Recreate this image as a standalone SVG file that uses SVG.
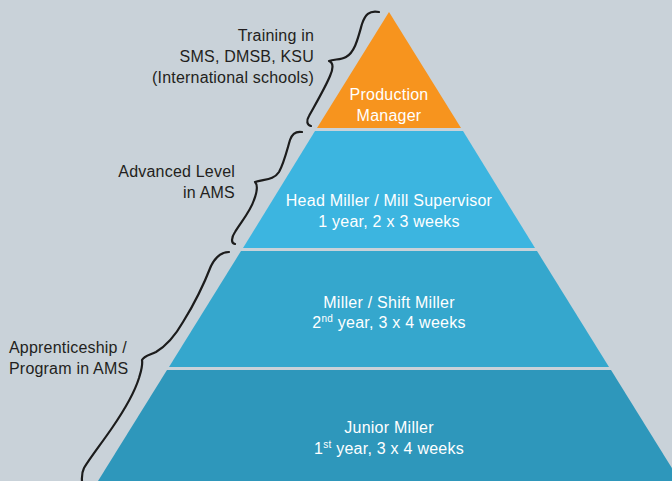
<svg xmlns="http://www.w3.org/2000/svg" width="672" height="481" viewBox="0 0 672 481">
<style>
.lbl{font-family:"Liberation Sans",Arial,sans-serif;font-size:16px;fill:#231f20;letter-spacing:0.2px}
.wt{font-family:"Liberation Sans",Arial,sans-serif;font-size:16px;fill:#ffffff;text-anchor:middle;letter-spacing:0.25px}
.sup{font-size:10px}
.brace{fill:none;stroke:#1c1c1c;stroke-width:2.2;stroke-linecap:round;stroke-linejoin:round}
</style>
<rect width="672" height="481" fill="#c9d2d9"/>
<g id="production-manager">
<polygon points="389,12 461,128 317,128" fill="#f7941e"/>
<text class="wt" x="389" y="100">Production</text>
<text class="wt" x="389" y="121">Manager</text>
</g>
<g id="head-miller">
<polygon points="315,131 463,131 535,248 243,248" fill="#3cb5e0"/>
<text class="wt" x="389" y="206">Head Miller / Mill Supervisor</text>
<text class="wt" x="389" y="227">1 year, 2 x 3 weeks</text>
</g>
<g id="shift-miller">
<polygon points="241,251 537,251 609,367 169,367" fill="#35a7cd"/>
<text class="wt" x="389" y="308">Miller / Shift Miller</text>
<text class="wt" x="389" y="328">2<tspan class="sup" dy="-6">nd</tspan><tspan dy="6"> year, 3 x 4 weeks</tspan></text>
</g>
<g id="junior-miller">
<polygon points="167,370 611,370 680,481 98,481" fill="#2e97bb"/>
<text class="wt" x="389" y="433">Junior Miller</text>
<text class="wt" x="389" y="454">1<tspan class="sup" dy="-6">st</tspan><tspan dy="6"> year, 3 x 4 weeks</tspan></text>
</g>
<g id="label-training">
<text class="lbl" text-anchor="end" x="314" y="41">Training in</text>
<text class="lbl" text-anchor="end" x="314" y="62">SMS, DMSB, KSU</text>
<text class="lbl" text-anchor="end" x="314" y="83">(International schools)</text>
</g>
<g id="label-advanced">
<text class="lbl" text-anchor="end" x="235" y="177">Advanced Level</text>
<text class="lbl" text-anchor="end" x="235" y="198">in AMS</text>
</g>
<g id="label-apprenticeship">
<text class="lbl" x="9" y="353">Apprenticeship /</text>
<text class="lbl" x="9" y="374">Program in AMS</text>
</g>
<g id="connectors">
<path class="brace" d="M379,12 C369,10 365,15 362,24 C358,38 355,52 346,57 C341,60 334,59 329,61 C334,63 333,69 330,76 C325,88 315,105 309,116 C306,121 307,125 311,126"/>
<path class="brace" d="M302,132 C296,131 292,134 290,140 C287,150 284,163 279,172 C274,180 264,179 255,182 C258,185 257,192 254,200 C250,212 241,222 235,232 C231,238 231,243 235,244"/>
<path class="brace" d="M229,252 C221,252 215,258 211,266 C204,284 193,306 183,322 C175,336 166,346 156,352 C150,355 144,356 142,360 C143,366 141,371 139,378 C134,394 123,412 112,428 C101,444 90,458 84,468 C81,474 82,478 82,483"/>
</g>
</svg>
